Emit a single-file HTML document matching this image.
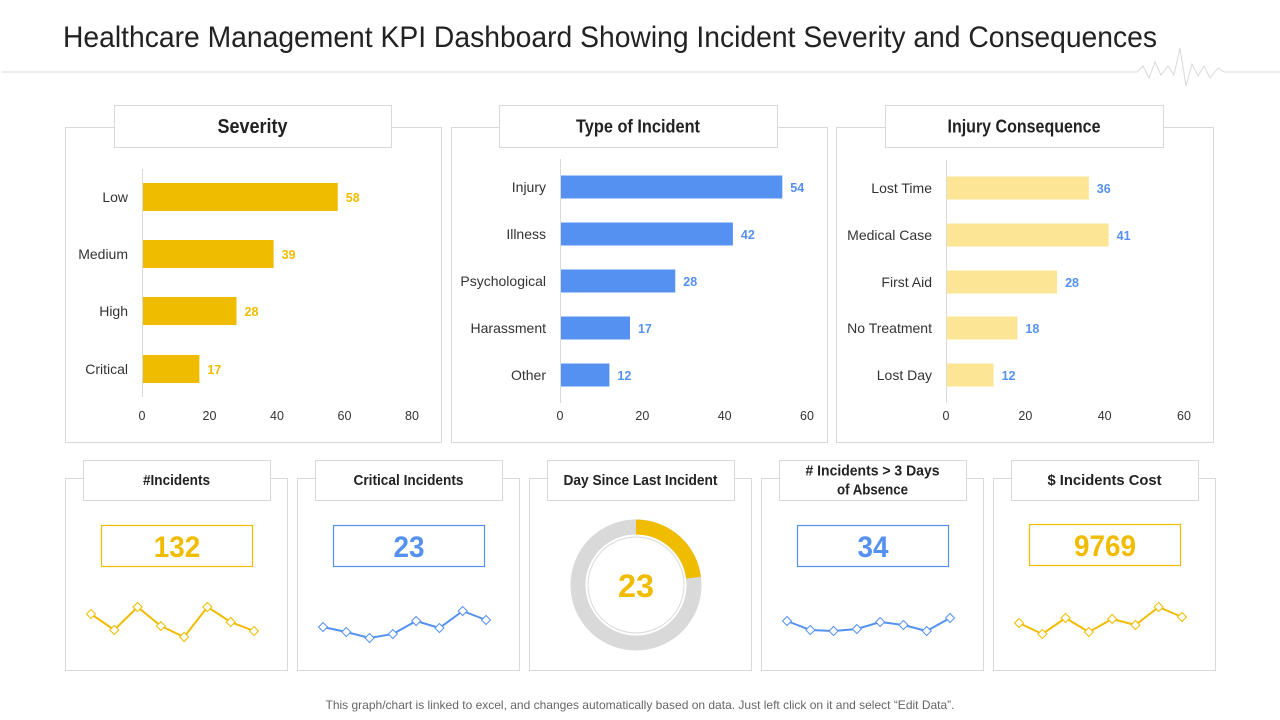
<!DOCTYPE html>
<html><head><meta charset="utf-8"><style>
body{margin:0;background:#fff;width:1280px;height:720px;overflow:hidden;font-family:"Liberation Sans",sans-serif}
svg{display:block}
</style></head><body>
<svg id="s" width="1280" height="720" xmlns="http://www.w3.org/2000/svg"></svg>
<script>
const sevCats=["Low","Medium","High","Critical"];
const sevVals=[58,39,28,17];
const sevTicks=[0,20,40,60,80];
const typeCats=["Injury","Illness","Psychological","Harassment","Other"];
const typeVals=[54,42,28,17,12];
const injCats=["Lost Time","Medical Case","First Aid","No Treatment","Lost Day"];
const injVals=[36,41,28,18,12];
const tick60=[0,20,40,60];
const spark1=[36,20,43,24,13,43,28,19];
const spark2=[23,18,12,16,29,22,39,30];
const spark4=[29,20,19,21,28,25,19,32];
const spark5=[27,16,32,18,31,25,43,33];
const kpiVals=["132","23","23","34","9769"];
const donutVal=[23,77];

const S=document.getElementById('s');const NS='http://www.w3.org/2000/svg';
function el(t,a,txt,p){const e=document.createElementNS(NS,t);for(const k in a)e.setAttribute(k,a[k]);if(txt!=null)e.textContent=txt;(p||S).appendChild(e);return e;}
const Y='#f0bc00',B='#5591f0',LY='#fde596',G='#d9d9d9',F='"Liberation Sans",sans-serif';

let t=el('text',{x:63,y:47,'font-size':30,fill:'#222','font-family':F,textLength:1094,lengthAdjust:'spacingAndGlyphs'},'Healthcare Management KPI Dashboard Showing Incident Severity and Consequences');

let hl=el('polyline',{points:'2,72 1137,72 1143,66 1149,78 1155,62 1161,75 1168,66 1174,75 1180,48 1186,86 1192,64 1198,76 1204,66 1210,78 1218,68 1224,72 1280,72',fill:'none',stroke:G,'stroke-width':1});


function panel(x,y,w,h,tx,ty,tw,th,title,name,fs,lens){
  const g=el('g',{});
  el('rect',{x:x+.5,y:y+.5,width:w,height:h,fill:'#fff',stroke:G},null,g);
  el('rect',{x:tx+.5,y:ty+.5,width:tw,height:th,fill:'#fff',stroke:G},null,g);
  const lines=title.split('\n');
  lines.forEach((l,i)=>{const tt=el('text',{x:tx+tw/2,y:ty+th/2+(i-(lines.length-1)/2)*19+fs*0.36,'text-anchor':'middle','font-size':fs,'font-weight':'bold',fill:'#222','font-family':F,textLength:lens[i],lengthAdjust:'spacingAndGlyphs'},l,g);
    });
  return g;
}
function barChart(g,cats,vals,ticks,x0,x1,ys,bh,color,lblColor,name){
  const max=ticks[ticks.length-1];const sx=v=>x0+(x1-x0)*v/max;
  el('line',{x1:x0+.5,x2:x0+.5,y1:ys[0]-28,y2:ys[ys.length-1]+28,stroke:G},null,g);
  ticks.forEach(v=>{const tk=el('text',{x:sx(v),y:420,'text-anchor':'middle','font-size':12.5,fill:'#333','font-family':F},v,g);
    });
  cats.forEach((c,i)=>{
    const r=el('rect',{x:x0+1,y:ys[i]-bh/2,width:sx(vals[i])-x0-1,height:bh,fill:color},null,g);
    
    const l=el('text',{x:x0-14,y:ys[i]+5,'text-anchor':'end','font-size':14,fill:'#333','font-family':F},c,g);
    
    const v=el('text',{x:sx(vals[i])+8,y:ys[i]+5,'font-size':12.5,'font-weight':'bold',fill:lblColor,'font-family':F},vals[i],g);
    
  });
}
let g1=panel(65,127,376,315,114,105,277,42,'Severity','severity-panel',20,[70]);
barChart(g1,sevCats,sevVals,sevTicks,142,412,[197,254,311,369],28,Y,Y,'severity');
let g2=panel(451,127,376,315,499,105,278,42,'Type of Incident','type-panel',18,[124]);
barChart(g2,typeCats,typeVals,tick60,560,807,[187,234,281,328,375],23,B,B,'type');
let g3=panel(836,127,377,315,885,105,278,42,'Injury Consequence','injury-panel',18,[153]);
barChart(g3,injCats,injVals,tick60,946,1184,[188,235,282,328,375],23,LY,B,'injury');

const bx=[65,297,529,761,993];
const titles=['#Incidents','Critical Incidents','Day Since Last Incident','# Incidents > 3 Days\nof Absence','$ Incidents Cost'];
const tlens=[[67],[110],[154],[134,71],[114]];
const names=['incidents','critical-incidents','days-since','absence-incidents','incidents-cost'];
const sparks=[spark1,spark2,null,spark4,spark5];
const cols=[Y,B,Y,B,Y];
bx.forEach((x,i)=>{
  const g=panel(x,478,222,192,x+18,460,187,40,titles[i],names[i]+'-card',14.5,tlens[i]);
  if(i===2){
    const cx=636,cy=585,r=58,tot=donutVal[0]+donutVal[1];
    const c=el('circle',{cx,cy,r,fill:'none',stroke:G,'stroke-width':15},null,g);
    const a=donutVal[0]/tot*2*Math.PI;
    const p=el('path',{d:`M${cx},${cy-r} A${r},${r} 0 ${a>Math.PI?1:0} 1 ${cx+r*Math.sin(a)},${cy-r*Math.cos(a)}`,fill:'none',stroke:Y,'stroke-width':15},null,g);
    
    el('circle',{cx,cy,r:48,fill:'none',stroke:G,'stroke-width':1},null,g);
    const v=el('text',{x:cx,y:cy+12,'text-anchor':'middle','font-size':32,'font-weight':'bold',fill:Y,'font-family':F,textLength:36,lengthAdjust:'spacingAndGlyphs'},kpiVals[i],g);
    
    return;
  }
  const by=i===4?524:525;
  el('rect',{x:x+36.5,y:by+.5,width:151,height:41,fill:'#fff',stroke:cols[i],'stroke-width':1.2},null,g);
  const v=el('text',{x:x+112,y:by+32,'text-anchor':'middle','font-size':30,'font-weight':'bold',fill:cols[i],'font-family':F,textLength:kpiVals[i].length*15.5,lengthAdjust:'spacingAndGlyphs'},kpiVals[i],g);
  
  const d=sparks[i];const sx=k=>x+26+k*(163/(d.length-1));const sy=v=>650-v;
  const pl=el('polyline',{points:d.map((v,k)=>sx(k)+','+sy(v)).join(' '),fill:'none',stroke:cols[i],'stroke-width':2},null,g);
  
  d.forEach((v,k)=>{const X=sx(k),Yy=sy(v);
    const m=el('path',{d:`M${X},${Yy-4.5}L${X+4.5},${Yy}L${X},${Yy+4.5}L${X-4.5},${Yy}Z`,fill:'#fff',stroke:cols[i],'stroke-width':1},null,g);
    });
});
const ft=el('text',{x:640,y:709,'text-anchor':'middle','font-size':12,fill:'#666','font-family':F},'This graph/chart is linked to excel, and changes automatically based on data. Just left click on it and select “Edit Data”.');

</script>
</body></html>
